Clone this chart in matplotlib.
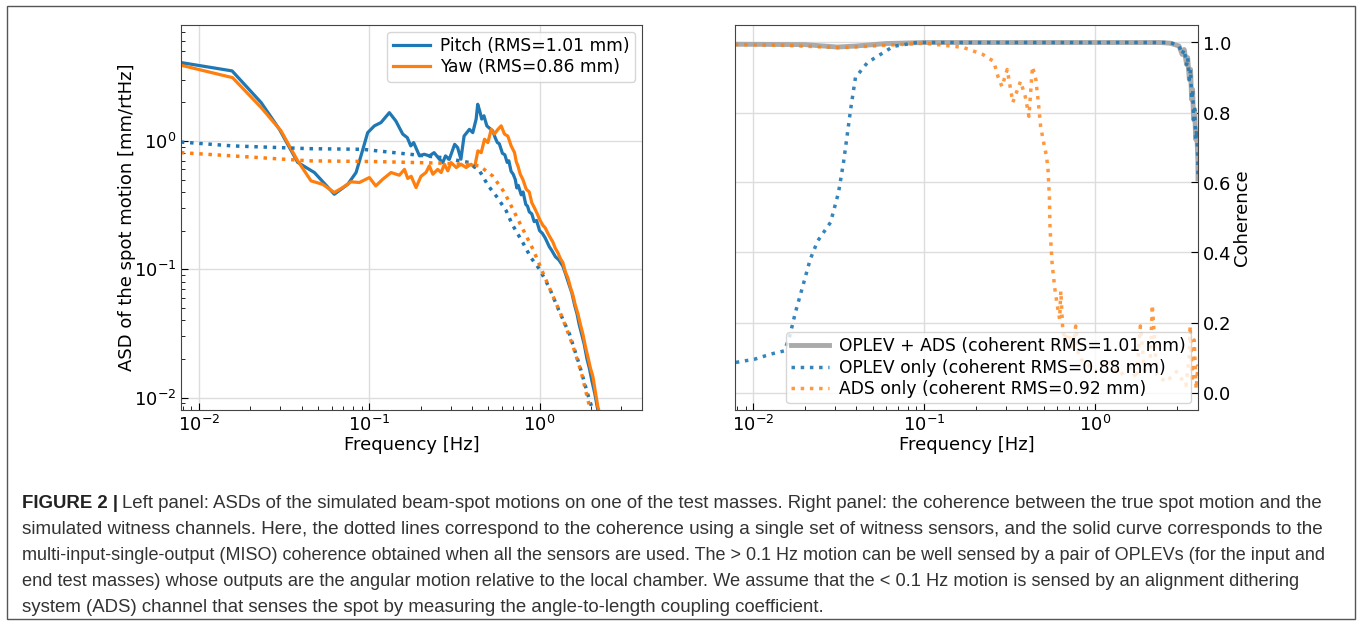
import matplotlib
matplotlib.use('Agg')
import matplotlib.pyplot as plt
from matplotlib.patches import Rectangle

# ---- left panel: ASD of the spot motion ----
pitch_freq = [0.0078, 0.0156, 0.0231, 0.0296, 0.0379, 0.0475, 0.0622, 0.0746, 0.0835, 0.0892,
              0.0977, 0.107, 0.117, 0.131, 0.143, 0.157, 0.167, 0.175, 0.182, 0.197,
              0.21, 0.225, 0.24, 0.258, 0.27, 0.28, 0.295, 0.317, 0.33, 0.345,
              0.36, 0.387, 0.405, 0.424, 0.433, 0.445, 0.457, 0.471, 0.49, 0.51,
              0.53, 0.55, 0.565, 0.58, 0.605, 0.625, 0.645, 0.66, 0.68, 0.70,
              0.72, 0.735, 0.75, 0.78, 0.8, 0.83, 0.85, 0.87, 0.9, 0.93,
              0.96, 1.0, 1.04, 1.08, 1.14, 1.18, 1.24, 1.3, 1.37, 1.43,
              1.49, 1.55, 1.61, 1.66, 1.71, 1.77, 1.83, 1.9, 1.96, 2.03,
              2.11, 2.2, 2.35]
pitch_asd = [4.08, 3.51, 1.99, 1.23, 0.68, 0.567, 0.384, 0.459, 0.567, 0.764,
             1.16, 1.31, 1.39, 1.66, 1.43, 1.13, 1.06, 0.914, 0.97, 0.764,
             0.787, 0.764, 0.81, 0.72, 0.678, 0.764, 0.72, 0.94, 0.887, 0.72,
             1.09, 1.23, 1.16, 1.48, 1.93, 1.71, 1.48, 1.57, 1.31, 1.25,
             1.2, 1.05, 0.97, 0.95, 0.8, 0.78, 0.68, 0.7, 0.58, 0.55,
             0.5, 0.43, 0.45, 0.38, 0.4, 0.32, 0.31, 0.28, 0.27, 0.235,
             0.24, 0.2, 0.19, 0.175, 0.15, 0.14, 0.125, 0.118, 0.106, 0.09,
             0.076, 0.065, 0.052, 0.045, 0.037, 0.031, 0.026, 0.02, 0.017, 0.0135,
             0.0108, 0.008, 0.0055]

yaw_freq = [0.0078, 0.0157, 0.0231, 0.0302, 0.0379, 0.0454, 0.0531, 0.0622, 0.0697, 0.078,
            0.0873, 0.1, 0.109, 0.1197, 0.134, 0.150, 0.1607, 0.168, 0.176, 0.188,
            0.201, 0.215, 0.225, 0.236, 0.252, 0.264, 0.276, 0.289, 0.302, 0.324,
            0.346, 0.370, 0.396, 0.415, 0.434, 0.454, 0.475, 0.497, 0.520, 0.543,
            0.569, 0.595, 0.622, 0.651, 0.681, 0.713, 0.73, 0.746, 0.77, 0.798,
            0.835, 0.87, 0.9, 0.934, 0.97, 1.0, 1.046, 1.08, 1.12, 1.16,
            1.197, 1.24, 1.28, 1.33, 1.37, 1.42, 1.47, 1.52, 1.57, 1.62,
            1.68, 1.74, 1.80, 1.86, 1.92, 1.99, 2.06, 2.13, 2.20, 2.35]
yaw_asd = [3.89, 3.11, 1.82, 1.2, 0.699, 0.488, 0.459, 0.396, 0.433, 0.48,
           0.474, 0.518, 0.446, 0.502, 0.567, 0.54, 0.6, 0.51, 0.53, 0.433,
           0.53, 0.567, 0.639, 0.55, 0.6, 0.567, 0.658, 0.584, 0.678, 0.62,
           0.658, 0.62, 0.658, 0.62, 0.836, 0.81, 1.03, 0.97, 1.23, 1.13,
           1.23, 1.31, 1.13, 1.09, 0.914, 0.81, 0.686, 0.64, 0.55, 0.5,
           0.42, 0.4, 0.33, 0.3, 0.27, 0.245, 0.22, 0.21, 0.19, 0.175,
           0.163, 0.145, 0.135, 0.12, 0.113, 0.095, 0.085, 0.072, 0.063, 0.053,
           0.045, 0.037, 0.031, 0.025, 0.021, 0.017, 0.0145, 0.011, 0.0085, 0.0062]

pitch_model_freq = [0.0078, 0.0157, 0.0443, 0.0912, 0.172, 0.27, 0.387, 0.444, 0.5, 0.565,
                    0.637, 0.69, 0.798, 0.89, 1.0, 1.14, 1.29, 1.5, 1.71, 1.92, 2.06]
pitch_model_asd = [0.98, 0.914, 0.87, 0.86, 0.787, 0.74, 0.678, 0.584, 0.446, 0.362,
                   0.285, 0.224, 0.161, 0.123, 0.1, 0.072, 0.0488, 0.0312, 0.0182, 0.0106, 0.00787]

yaw_model_freq = [0.0078, 0.0157, 0.0443, 0.109, 0.27, 0.387, 0.444, 0.53, 0.622, 0.713,
                  0.798, 0.915, 1.046, 1.197, 1.37, 1.57, 1.76, 1.92, 2.0]
yaw_model_asd = [0.81, 0.764, 0.699, 0.69, 0.67, 0.655, 0.639, 0.533, 0.396, 0.276,
                 0.205, 0.143, 0.094, 0.062, 0.041, 0.0253, 0.0157, 0.0097, 0.0079]

# ---- right panel: coherence ----
miso_freq = [0.0078, 0.02, 0.031, 0.04, 0.06, 0.1, 2.4, 2.75, 3.1, 3.23, 3.32, 3.43, 3.48,
             3.56, 3.62, 3.67, 3.72, 3.77, 3.82, 3.88, 3.93, 3.99, 4.0]
miso_coh = [0.995, 0.994, 0.987, 0.99, 0.997, 1.0, 1.0, 0.998, 0.99, 0.966, 0.98, 0.937, 0.957,
            0.894, 0.923, 0.837, 0.866, 0.78, 0.809, 0.723, 0.751, 0.666, 0.61]

oplev_freq = [0.0079, 0.01015, 0.0127, 0.0152, 0.01635, 0.01763, 0.0195, 0.02154, 0.0238, 0.0283,
              0.0315, 0.0337, 0.0356, 0.0371, 0.0396, 0.0466, 0.0555, 0.066, 0.091, 0.1,
              2.46, 2.75, 3.1, 3.23, 3.32, 3.43, 3.48, 3.56, 3.62, 3.67,
              3.72, 3.77, 3.82, 3.88, 3.93, 3.99, 4.0]
oplev_coh = [0.086, 0.095, 0.11, 0.119, 0.162, 0.229, 0.305, 0.381, 0.433, 0.486,
             0.571, 0.657, 0.743, 0.809, 0.9, 0.943, 0.966, 0.989, 1.0, 1.0,
             1.0, 1.0, 0.99, 0.966, 0.98, 0.937, 0.957, 0.894, 0.923, 0.837,
             0.866, 0.78, 0.809, 0.723, 0.751, 0.666, 0.61]

ads_freq = [0.0078, 0.015, 0.0325, 0.05, 0.1, 0.169, 0.22, 0.255, 0.27, 0.285,
            0.306, 0.33, 0.366, 0.39, 0.41, 0.43, 0.45, 0.465, 0.48, 0.5,
            0.52, 0.53, 0.54, 0.545, 0.56, 0.58, 0.6, 0.62, 0.63, 0.645,
            0.66, 0.7, 0.74, 0.77, 0.8, 0.9, 1.0, 1.2, 1.4, 1.6,
            1.75, 1.84, 1.95, 2.1, 2.16, 2.3, 2.6, 3.0, 3.4, 3.55,
            3.6, 3.7, 3.8, 3.9, 4.0]
ads_coh = [0.994, 0.992, 0.985, 0.99, 0.998, 0.986, 0.966, 0.946, 0.903, 0.874,
           0.923, 0.829, 0.889, 0.846, 0.789, 0.931, 0.894, 0.831, 0.76, 0.714,
           0.674, 0.637, 0.56, 0.466, 0.37, 0.3, 0.25, 0.21, 0.29, 0.19,
           0.15, 0.17, 0.12, 0.19, 0.1, 0.08, 0.06, 0.09, 0.05, 0.07,
           0.04, 0.19, 0.06, 0.08, 0.25, 0.05, 0.03, 0.06, 0.02, 0.1,
           0.19, 0.03, 0.15, 0.01, 0.08]

caption_lines = [
    "Left panel: ASDs of the simulated beam-spot motions on one of the test masses. Right panel: the coherence between the true spot motion and the",
    "simulated witness channels. Here, the dotted lines correspond to the coherence using a single set of witness sensors, and the solid curve corresponds to the",
    "multi-input-single-output (MISO) coherence obtained when all the sensors are used. The > 0.1 Hz motion can be well sensed by a pair of OPLEVs (for the input and",
    "end test masses) whose outputs are the angular motion relative to the local chamber. We assume that the < 0.1 Hz motion is sensed by an alignment dithering",
    "system (ADS) channel that senses the spot by measuring the angle-to-length coupling coefficient.",
]
# right end (px) of each caption line in the reference; None = natural width
caption_right = [1325, 1326, 1327, 1300, None]

plt.rcParams['font.size'] = 13
W, H = 1362, 625
fig = plt.figure(figsize=(W / 100, H / 100), dpi=100)

ax1 = fig.add_axes([181 / W, 1 - 410 / H, 461 / W, 385 / H])
ax2 = fig.add_axes([735 / W, 1 - 410 / H, 463 / W, 385 / H])

ax1.loglog(pitch_freq, pitch_asd, color='C0', lw=2.3, label='Pitch (RMS=1.01 mm)')
ax1.loglog(yaw_freq, yaw_asd, color='C1', lw=2.3, label='Yaw (RMS=0.86 mm)')
ax1.loglog(pitch_model_freq, pitch_model_asd, color='C0', lw=2.5, ls=':')
ax1.loglog(yaw_model_freq, yaw_model_asd, color='C1', lw=2.5, ls=':')
ax1.set_xlim(1 / 128, 4)
ax1.set_ylim(8e-3, 8)
ax1.set_xlabel('Frequency [Hz]', labelpad=1)
ax1.set_ylabel('ASD of the spot motion [mm/rtHz]', labelpad=-2)
ax1.grid(True, which='major', color='#dddddd', lw=1)
ax1.legend(loc='upper right', fontsize=12.3, handlelength=2.2, borderpad=0.3,
           labelspacing=0.2, handletextpad=0.6, borderaxespad=0.4)

ax2.semilogx(miso_freq, miso_coh, color='#aaaaaa', lw=3.5,
             label='OPLEV + ADS (coherent RMS=1.01 mm)')
ax2.semilogx(oplev_freq, oplev_coh, color='C0', lw=2.5, ls=':', alpha=0.9,
             label='OPLEV only (coherent RMS=0.88 mm)')
ax2.semilogx(ads_freq, ads_coh, color='C1', lw=2.5, ls=':', alpha=0.8,
             label='ADS only (coherent RMS=0.92 mm)')
ax2.set_xlim(1 / 128, 4)
ax2.set_ylim(-0.05, 1.05)
ax2.yaxis.tick_right()
ax2.yaxis.set_label_position('right')
ax2.set_ylabel('Coherence', labelpad=1)
ax2.set_xlabel('Frequency [Hz]', labelpad=1)
ax2.grid(True, which='major', color='#dddddd', lw=1)
ax2.legend(loc='lower right', fontsize=12.3, handlelength=2.2, borderpad=0.3,
           labelspacing=0.2, handletextpad=0.6, borderaxespad=0.4)

for ax in (ax1, ax2):
    ax.tick_params(which='both', direction='in', labelsize=13)
    ax.tick_params(which='major', length=5)
    ax.tick_params(which='minor', length=3)
    for sp in ax.spines.values():
        sp.set_color('#444444')

# frame around figure and caption
fig.patches.append(Rectangle((7 / W, 1 - 619 / H), 1348 / W, 613 / H,
                             transform=fig.transFigure, fill=False,
                             edgecolor='#555555', lw=1))

cap_font = ['Liberation Sans', 'DejaVu Sans']
cap_size = 13.4
x0 = 22 / W
y_first = 508
step = 26
bold = fig.text(x0, 1 - y_first / H, 'FIGURE 2 |', fontsize=cap_size, fontweight='bold',
                family=cap_font, color='#222222', va='baseline')
r = fig.canvas.get_renderer()
bb = bold.get_window_extent(renderer=r)
for i, line in enumerate(caption_lines):
    y = 1 - (y_first + i * step) / H
    x_px = bb.x1 + 4 if i == 0 else 22
    t = fig.text(x_px / W, y, line, fontsize=cap_size, family=cap_font,
                 color='#333333', va='baseline')
    if caption_right[i] is not None:
        w = t.get_window_extent(renderer=r).width
        t.set_fontsize(cap_size * (caption_right[i] - x_px) / w)

fig.savefig('out.png', dpi=100)
